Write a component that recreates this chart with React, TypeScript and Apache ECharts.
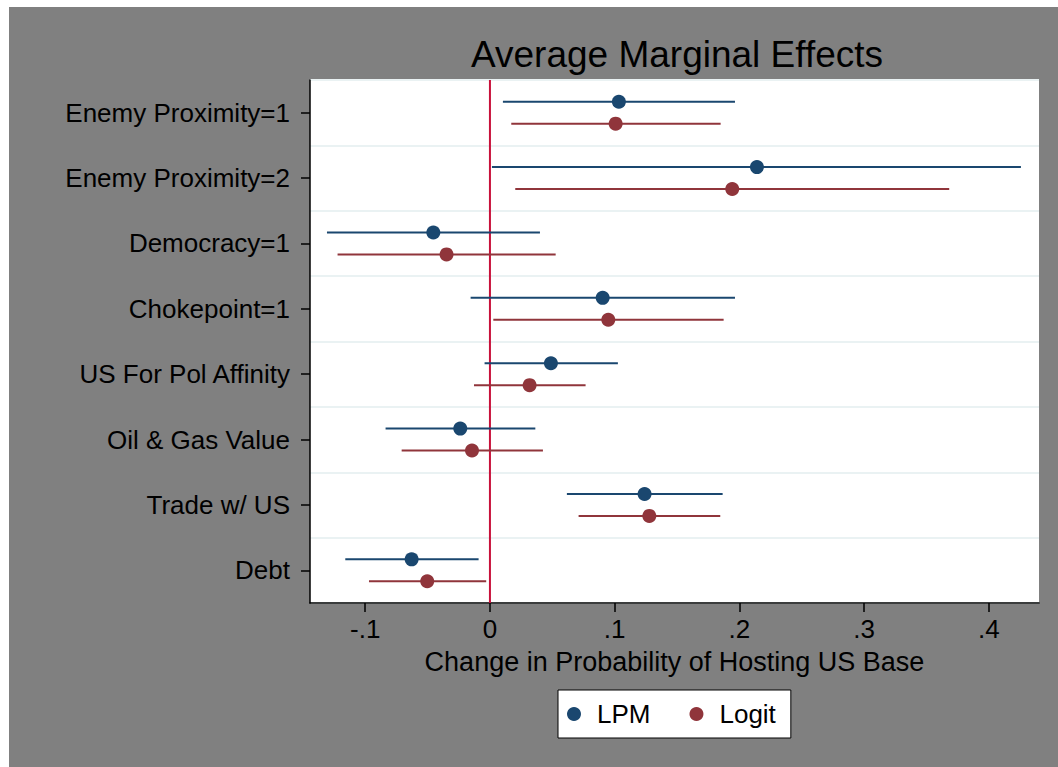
import React, { useEffect, useRef } from "react";
import * as echarts from "echarts";

const categories = [
  "Enemy Proximity=1",
  "Enemy Proximity=2",
  "Democracy=1",
  "Chokepoint=1",
  "US For Pol Affinity",
  "Oil & Gas Value",
  "Trade w/ US",
  "Debt",
];

const lpmEstimate = [0.1034, 0.2141, -0.0454, 0.0904, 0.0489, -0.0238, 0.124, -0.0628];
const lpmLower = [0.0104, 0.0016, -0.1307, -0.0155, -0.0043, -0.0837, 0.0617, -0.116];
const lpmUpper = [0.1965, 0.4258, 0.0401, 0.1965, 0.1026, 0.0364, 0.1866, -0.0091];

const logitEstimate = [0.1008, 0.1943, -0.0348, 0.0949, 0.0318, -0.0144, 0.1278, -0.0503];
const logitLower = [0.0171, 0.0203, -0.1222, 0.0027, -0.0128, -0.0708, 0.0711, -0.097];
const logitUpper = [0.185, 0.3683, 0.0527, 0.1874, 0.0767, 0.0425, 0.1847, -0.003];

const xTicks = [-0.1, 0, 0.1, 0.2, 0.3, 0.4];
const referenceX = 0;

const FONT = "Liberation Sans";
const NAVY = "#1a476f";
const MAROON = "#90353b";

function buildData(lo: number[], hi: number[], est: number[]) {
  return categories.map((_, i) => [lo[i], hi[i], est[i], i]);
}

function makeRender(color: string, sign: number) {
  return (params: any, api: any) => {
    const cat = api.value(3);
    const lo = api.coord([api.value(0), cat]);
    const hi = api.coord([api.value(1), cat]);
    const pt = api.coord([api.value(2), cat]);
    const band = api.size([0, 1])[1];
    const off = band * 0.168 * sign;
    return {
      type: "group",
      children: [
        {
          type: "line",
          shape: { x1: lo[0], y1: lo[1] + off, x2: hi[0], y2: hi[1] + off },
          style: { stroke: color, lineWidth: 2 },
        },
        {
          type: "circle",
          shape: { cx: pt[0], cy: pt[1] + off, r: 7 },
          style: { fill: color },
        },
      ],
    };
  };
}

function renderRef(params: any, api: any) {
  const cs = params.coordSys;
  const p = api.coord([api.value(0), 0]);
  return {
    type: "line",
    shape: { x1: p[0], y1: cs.y, x2: p[0], y2: cs.y + cs.height },
    style: { stroke: "#c8103a", lineWidth: 2 },
  };
}

export default function App() {
  const ref = useRef<HTMLDivElement>(null);
  useEffect(() => {
    if (!ref.current) return;
    const chart = echarts.init(ref.current, null, { renderer: "svg" });
    const option: any = {
      animation: false,
      backgroundColor: "#808080",
      textStyle: { fontFamily: FONT, color: "#000" },
      title: {
        text: "Average Marginal Effects",
        left: 462,
        top: 29,
        padding: 0,
        textStyle: { fontFamily: FONT, fontSize: 37, fontWeight: "normal", color: "#000" },
      },
      legend: {
        left: 549,
        top: 683,
        orient: "horizontal",
        backgroundColor: "#fff",
        borderColor: "#000",
        borderWidth: 1,
        padding: [10, 15, 10, 9],
        itemWidth: 14,
        itemHeight: 14,
        itemGap: 39,
        icon: "circle",
        data: ["LPM", "Logit"],
        textStyle: {
          fontFamily: FONT,
          fontSize: 26,
          color: "#000",
          padding: [0, 0, 0, 11],
          lineHeight: 28,
        },
      },
      grid: {
        left: 301,
        right: 19,
        top: 73,
        bottom: 164,
        show: true,
        backgroundColor: "#fff",
        borderWidth: 0,
        containLabel: false,
      },
      xAxis: {
        type: "value",
        min: -0.1443,
        max: 0.4403,
        name: "Change in Probability of Hosting US Base",
        nameLocation: "middle",
        nameGap: 45,
        nameTextStyle: { fontFamily: FONT, fontSize: 27, color: "#000" },
        axisLine: { show: true, onZero: false, lineStyle: { color: "#000", width: 1.5 } },
        axisTick: {
          show: true,
          length: 9,
          customValues: xTicks,
          lineStyle: { color: "#000", width: 1.5 },
        },
        axisLabel: {
          customValues: xTicks,
          margin: 13,
          fontFamily: FONT,
          fontSize: 26,
          color: "#000",
          formatter: (v: number) =>
            Math.abs(v) < 1e-9 ? "0" : v.toFixed(1).replace("0.", "."),
        },
        splitLine: { show: false },
      },
      yAxis: {
        type: "category",
        data: categories,
        inverse: true,
        boundaryGap: true,
        axisLine: { show: true, onZero: false, lineStyle: { color: "#000", width: 1.5 } },
        axisTick: {
          show: true,
          alignWithLabel: true,
          length: 9,
          lineStyle: { color: "#000", width: 1.5 },
        },
        axisLabel: {
          margin: 20,
          fontFamily: FONT,
          fontSize: 26,
          color: "#000",
        },
        splitLine: { show: true, lineStyle: { color: "#eaf2f3", width: 2 } },
      },
      series: [
        {
          name: "ref",
          type: "custom",
          renderItem: renderRef,
          encode: { x: 0 },
          data: [[referenceX]],
          z: 2,
          silent: true,
        },
        {
          name: "LPM",
          type: "custom",
          itemStyle: { color: NAVY },
          renderItem: makeRender(NAVY, -1),
          encode: { x: [0, 1, 2], y: 3 },
          data: buildData(lpmLower, lpmUpper, lpmEstimate),
          z: 3,
        },
        {
          name: "Logit",
          type: "custom",
          itemStyle: { color: MAROON },
          renderItem: makeRender(MAROON, 1),
          encode: { x: [0, 1, 2], y: 3 },
          data: buildData(logitLower, logitUpper, logitEstimate),
          z: 3,
        },
      ],
    };
    chart.setOption(option);
    return () => chart.dispose();
  }, []);
  return (
    <div
      ref={ref}
      style={{ position: "fixed", left: 9, top: 7, width: 1049, height: 760 }}
    />
  );
}
